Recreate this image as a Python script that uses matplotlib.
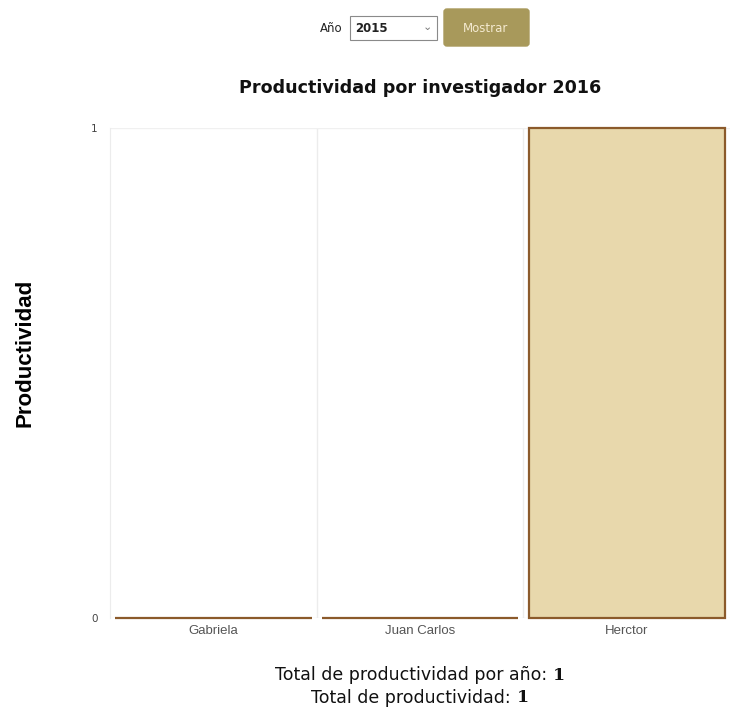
import matplotlib
matplotlib.use("Agg")
import matplotlib.pyplot as plt
from matplotlib.patches import Rectangle, FancyBboxPatch

# Data
investigadores = ["Gabriela", "Juan Carlos", "Herctor"]
productividad = [0, 0, 1]
anio_select = "2015"
anio_titulo = "2016"
total_anio = 1
total_general = 1

W, H = 744, 711
fig = plt.figure(figsize=(W / 100, H / 100), dpi=100)
fig.patch.set_facecolor("white")

def fx(px):
	return px / W

def fy(py):
	return 1 - py / H

# Top form: label, select, button
fig.text(fx(331), fy(28), "Año", ha="center", va="center", fontsize=8.5, color="#222222")
fig.patches.append(Rectangle((fx(350), fy(40)), fx(437) - fx(350), fy(16) - fy(40),
	transform=fig.transFigure, facecolor="white", edgecolor="#8a8a8a", linewidth=0.8))
fig.text(fx(355), fy(28), anio_select, ha="left", va="center", fontsize=8.5,
	fontweight="bold", color="#222222")
fig.text(fx(427), fy(27), "⌄", ha="center", va="center", fontsize=8, color="#777777")
fig.patches.append(FancyBboxPatch((fx(444), fy(46)), fx(529) - fx(444), fy(9) - fy(46),
	boxstyle="round,pad=0,rounding_size=0.004", transform=fig.transFigure,
	facecolor="#a8995b", edgecolor="#a8995b"))
fig.text(fx(486), fy(28), "Mostrar", ha="center", va="center", fontsize=8.5, color="#f4ead0")

fig.text(fx(420), fy(88), "Productividad por investigador " + anio_titulo, ha="center",
	va="center", fontsize=12.6, fontweight="bold", color="#111111")

ax = fig.add_axes([fx(110), fy(618), fx(730) - fx(110), fy(128) - fy(618)])
x = list(range(len(investigadores)))
ax.bar(x, productividad, width=0.95, color="#e8d8ac", edgecolor="#8b5a2b",
	linewidth=1.6, clip_on=False, zorder=3)
ax.set_xlim(-0.5, len(investigadores) - 0.5)
ax.set_ylim(0, 1)
ax.set_yticks([0, 1])
ax.set_yticklabels(["0", "1"], fontsize=7.5, color="#444444")
ax.set_xticks(x)
ax.set_xticklabels(investigadores, fontsize=9.5, color="#555555", family="Liberation Sans")
ax.set_xticks([i + 0.5 for i in x[:-1]], minor=True)
ax.tick_params(axis="y", which="both", length=0, pad=9)
ax.tick_params(axis="x", which="both", length=0, pad=5)
ax.grid(True, axis="x", which="minor", color="#ececec", linewidth=1)
ax.grid(True, axis="y", which="major", color="#f0f0f0", linewidth=1)
for side in ["top", "right", "bottom"]:
	ax.spines[side].set_visible(False)
ax.spines["left"].set_color("#ececec")
ax.set_axisbelow(True)

fig.text(fx(25), fy(353), "Productividad", rotation=90, ha="center", va="center",
	fontsize=16, fontweight="bold", family="Liberation Sans", color="#000000")

# Footer totals: normal label followed by a bold number, centred as one line
renderer = fig.canvas.get_renderer()

def footer_line(label, value, ypx, cx=420):
	t_lab = fig.text(0, fy(ypx), label, ha="left", va="center", fontsize=12.5,
		color="#111111")
	t_val = fig.text(0, fy(ypx), str(value), ha="left", va="center", fontsize=12.5,
		fontweight="bold", family="DejaVu Serif", color="#111111")
	w_lab = t_lab.get_window_extent(renderer).width
	w_val = t_val.get_window_extent(renderer).width
	left = cx - (w_lab + w_val) / 2
	t_lab.set_x(fx(left))
	t_val.set_x(fx(left + w_lab))

footer_line("Total de productividad por año: ", total_anio, 675)
footer_line("Total de productividad: ", total_general, 698)

fig.savefig("out.png", dpi=100)
